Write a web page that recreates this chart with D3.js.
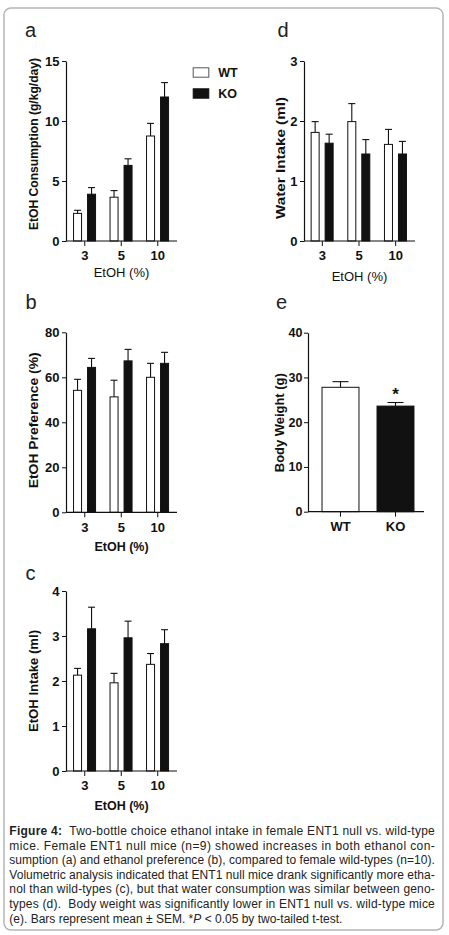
<!DOCTYPE html>
<html>
<head>
<meta charset="utf-8">
<script src="https://cdn.jsdelivr.net/npm/d3@7"></script>
<style>
  html, body { margin: 0; padding: 0; background: #fff; }
  svg { display: block; font-family: "Liberation Sans", Arial, sans-serif; }
</style>
</head>
<body>
<svg id="fig" width="449" height="935"></svg>
<script>
// ---------- data ----------
const groups = ["WT", "KO"];
const ethanolCats = ["3", "5", "10"];

// (a) EtOH consumption (g/kg/day)
const consumptionWT = [2.3, 3.65, 8.75];
const consumptionWTsem = [0.26, 0.55, 1.05];
const consumptionKO = [3.9, 6.3, 12.0];
const consumptionKOsem = [0.55, 0.55, 1.2];
const consumptionTicks = [0, 5, 10, 15];

// (b) EtOH preference (%)
const preferenceWT = [54.2, 51.3, 60.0];
const preferenceWTsem = [4.9, 7.4, 6.2];
const preferenceKO = [64.4, 67.3, 66.2];
const preferenceKOsem = [4.0, 5.1, 4.9];
const preferenceTicks = [0, 20, 40, 60, 80];

// (c) EtOH intake (ml)
const intakeWT = [2.13, 1.96, 2.37];
const intakeWTsem = [0.15, 0.21, 0.24];
const intakeKO = [3.16, 2.96, 2.83];
const intakeKOsem = [0.48, 0.37, 0.31];
const intakeTicks = [0, 1, 2, 3, 4];

// (d) Water intake (ml)
const waterWT = [1.81, 1.99, 1.61];
const waterWTsem = [0.18, 0.30, 0.25];
const waterKO = [1.63, 1.45, 1.45];
const waterKOsem = [0.15, 0.24, 0.21];
const waterTicks = [0, 1, 2, 3];

// (e) Body weight (g)
const bodyWeight = [27.8, 23.6];
const bodyWeightSem = [1.26, 0.8];
const bodyWeightTicks = [0, 10, 20, 30, 40];
const bodyWeightSignificant = [false, true];

const captionLines = [
  [{t: "Figure 4:", b: true}, {t: "\u00a0 Two-bottle choice ethanol intake in female ENT1 null vs. wild-type"}],
  [{t: "mice. Female ENT1 null mice (n=9) showed increases in both ethanol con-"}],
  [{t: "sumption (a) and ethanol preference (b), compared to female wild-types (n=10)."}],
  [{t: "Volumetric analysis indicated that ENT1 null mice drank significantly more etha-"}],
  [{t: "nol than wild-types (c), but that water consumption was similar between geno-"}],
  [{t: "types (d).\u00a0 Body weight was significantly lower in ENT1 null vs. wild-type mice"}],
  [{t: "(e). Bars represent mean \u00b1 SEM. *"}, {t: "P", i: true}, {t: " < 0.05 by two-tailed t-test."}]
];

// ---------- drawing ----------
const svg = d3.select("#fig");
const INK = "#111";
const fmt = d3.format("~g");

svg.append("rect")
  .attr("x", 4).attr("y", 8).attr("width", 439).attr("height", 922)
  .attr("rx", 7).attr("fill", "none").attr("stroke", "#b5b5b5").attr("stroke-width", 1.5);

function styleAxis(g, size) {
  g.selectAll("text").attr("font-size", size).attr("font-weight", "bold").attr("fill", INK)
    .attr("font-family", "'Liberation Sans', Arial, sans-serif");
  g.selectAll("line").attr("stroke", INK);
}

function drawGroupedPanel(cfg) {
  const g = svg.append("g");
  const y = d3.scaleLinear().domain([0, d3.max(cfg.ticks)]).range([cfg.yBot, cfg.yTop]);
  const x = d3.scaleBand().domain(ethanolCats).range(cfg.bandRange).padding(0);
  const inner = d3.scaleBand().domain(groups).range([-11.7, 11.3]).paddingInner(0.357);

  const series = [
    {grp: "WT", vals: cfg.wt, sem: cfg.wtSem},
    {grp: "KO", vals: cfg.ko, sem: cfg.koSem}
  ];
  series.forEach(s => {
    const fill = s.grp === "WT" ? "#fff" : INK;
    s.vals.forEach((v, i) => {
      const cx = x(ethanolCats[i]) + x.bandwidth() / 2;
      const bx = cx + inner(s.grp);
      const mid = bx + inner.bandwidth() / 2;
      g.append("line").attr("x1", mid).attr("x2", mid)
        .attr("y1", y(v)).attr("y2", y(v + s.sem[i]))
        .attr("stroke", INK).attr("stroke-width", 1.1);
      g.append("line").attr("x1", mid - 3.5).attr("x2", mid + 3.5)
        .attr("y1", y(v + s.sem[i])).attr("y2", y(v + s.sem[i]))
        .attr("stroke", INK).attr("stroke-width", 1.1);
      g.append("rect")
        .attr("x", bx + 0.5).attr("y", y(v))
        .attr("width", inner.bandwidth() - 1).attr("height", y(0) - y(v))
        .attr("fill", fill).attr("stroke", INK).attr("stroke-width", 1);
    });
  });

  const ya = g.append("g").attr("transform", `translate(${cfg.x0},0)`)
    .call(d3.axisLeft(y).tickValues(cfg.ticks).tickFormat(fmt).tickSize(4).tickPadding(2.5).tickSizeOuter(0));
  ya.select(".domain").attr("stroke", INK).attr("stroke-width", 1.2);
  styleAxis(ya, 13);

  const xa = g.append("g").attr("transform", `translate(0,${cfg.yBot})`)
    .call(d3.axisBottom(x).tickSize(5).tickPadding(5).tickSizeOuter(0));
  xa.select(".domain").remove();
  styleAxis(xa, 13);
  g.append("line").attr("x1", cfg.x0).attr("x2", cfg.x1)
    .attr("y1", cfg.yBot).attr("y2", cfg.yBot).attr("stroke", INK).attr("stroke-width", 1.2);

  g.append("text")
    .attr("transform", `translate(${cfg.yLabelX},${(cfg.yTop + cfg.yBot) / 2 + cfg.yLabelShift}) rotate(-90)`)
    .attr("text-anchor", "middle").attr("font-size", 13).attr("font-weight", "bold").attr("fill", INK)
    .attr("textLength", cfg.yLabelLen).attr("lengthAdjust", "spacingAndGlyphs")
    .text(cfg.yLabel);
  g.append("text")
    .attr("x", (cfg.x0 + cfg.x1) / 2).attr("y", cfg.yBot + cfg.xLabelDy)
    .attr("text-anchor", "middle").attr("font-size", cfg.xLabelBold ? 12.5 : 13)
    .attr("font-weight", cfg.xLabelBold ? "bold" : "normal").attr("fill", INK)
    .text("EtOH (%)");

  g.append("text").attr("x", cfg.letterX).attr("y", cfg.letterY)
    .attr("font-size", 20).attr("fill", "#222").text(cfg.letter);
  return g;
}

const pa = drawGroupedPanel({
  letter: "a", letterX: 25, letterY: 37.3,
  x0: 66, x1: 177, yTop: 61, yBot: 241, bandRange: [66.5, 176],
  ticks: consumptionTicks, wt: consumptionWT, wtSem: consumptionWTsem, ko: consumptionKO, koSem: consumptionKOsem,
  yLabel: "EtOH Consumption (g/kg/day)", yLabelX: 37.5, yLabelLen: 172, yLabelShift: -7,
  xLabelDy: 36, xLabelBold: false
});

groups.forEach((grp, i) => {
  pa.append("rect").attr("x", 193.2).attr("y", 67.8 + i * 21)
    .attr("width", 15.6).attr("height", 9.4)
    .attr("fill", grp === "WT" ? "#fff" : INK).attr("stroke", grp === "WT" ? "#555" : INK).attr("stroke-width", 1);
  pa.append("text").attr("x", 218.3).attr("y", 76.8 + i * 21)
    .attr("font-size", 12.5).attr("font-weight", "bold").attr("fill", INK).text(grp);
});

drawGroupedPanel({
  letter: "d", letterX: 277.5, letterY: 37,
  x0: 304, x1: 415, yTop: 61, yBot: 241, bandRange: [304, 414],
  ticks: waterTicks, wt: waterWT, wtSem: waterWTsem, ko: waterKO, koSem: waterKOsem,
  yLabel: "Water Intake (ml)", yLabelX: 284.5, yLabelLen: 122, yLabelShift: 7,
  xLabelDy: 40, xLabelBold: false
});

drawGroupedPanel({
  letter: "b", letterX: 25.5, letterY: 309,
  x0: 66, x1: 177, yTop: 332.3, yBot: 512.3, bandRange: [66.5, 176],
  ticks: preferenceTicks, wt: preferenceWT, wtSem: preferenceWTsem, ko: preferenceKO, koSem: preferenceKOsem,
  yLabel: "EtOH Preference (%)", yLabelX: 37.5, yLabelLen: 136, yLabelShift: -2,
  xLabelDy: 38.5, xLabelBold: true
});

drawGroupedPanel({
  letter: "c", letterX: 25.5, letterY: 580,
  x0: 66, x1: 177, yTop: 591, yBot: 771, bandRange: [66.5, 176],
  ticks: intakeTicks, wt: intakeWT, wtSem: intakeWTsem, ko: intakeKO, koSem: intakeKOsem,
  yLabel: "EtOH Intake (ml)", yLabelX: 37.5, yLabelLen: 102, yLabelShift: 0,
  xLabelDy: 38.5, xLabelBold: true
});

// (e) body weight
(function () {
  const g = svg.append("g");
  const x0 = 308, x1 = 424, yTop = 332.7, yBot = 511.7;
  const y = d3.scaleLinear().domain([0, d3.max(bodyWeightTicks)]).range([yBot, yTop]);
  const x = d3.scaleBand().domain(groups).range([313, 423]).paddingInner(0.31).paddingOuter(0.155);
  groups.forEach((grp, i) => {
    const v = bodyWeight[i], e = bodyWeightSem[i];
    const mid = x(grp) + x.bandwidth() / 2;
    g.append("line").attr("x1", mid).attr("x2", mid).attr("y1", y(v)).attr("y2", y(v + e))
      .attr("stroke", INK).attr("stroke-width", 1.1);
    g.append("line").attr("x1", mid - 8).attr("x2", mid + 8).attr("y1", y(v + e)).attr("y2", y(v + e))
      .attr("stroke", INK).attr("stroke-width", 1.1);
    g.append("rect").attr("x", x(grp) + 0.5).attr("y", y(v))
      .attr("width", x.bandwidth() - 1).attr("height", y(0) - y(v))
      .attr("fill", grp === "WT" ? "#fff" : INK).attr("stroke", INK).attr("stroke-width", 1);
    if (bodyWeightSignificant[i]) {
      g.append("text").attr("x", mid).attr("y", y(v + e) - 3)
        .attr("text-anchor", "middle").attr("font-size", 17).attr("font-weight", "bold")
        .attr("fill", INK).text("*");
    }
  });
  const ya = g.append("g").attr("transform", `translate(${x0},0)`)
    .call(d3.axisLeft(y).tickValues(bodyWeightTicks).tickFormat(fmt).tickSize(4).tickPadding(1.5).tickSizeOuter(0));
  ya.select(".domain").attr("stroke", INK).attr("stroke-width", 1.2);
  styleAxis(ya, 12.5);
  const xa = g.append("g").attr("transform", `translate(0,${yBot})`)
    .call(d3.axisBottom(x).tickSize(5).tickPadding(5).tickSizeOuter(0));
  xa.select(".domain").remove();
  styleAxis(xa, 13);
  g.append("line").attr("x1", x0).attr("x2", x1).attr("y1", yBot).attr("y2", yBot)
    .attr("stroke", INK).attr("stroke-width", 1.2);
  g.append("text")
    .attr("transform", `translate(284,${(yTop + yBot) / 2 + 0.5}) rotate(-90)`)
    .attr("text-anchor", "middle").attr("font-size", 13).attr("font-weight", "bold").attr("fill", INK)
    .attr("textLength", 99).attr("lengthAdjust", "spacingAndGlyphs")
    .text("Body Weight (g)");
  g.append("text").attr("x", 276).attr("y", 309).attr("font-size", 20).attr("fill", "#222").text("e");
})();

// caption
const cap = svg.append("g").attr("font-size", 12).attr("fill", "#222");
captionLines.forEach((parts, i) => {
  const t = cap.append("text").attr("x", 9.3).attr("y", 835.2 + i * 14.55)
    .style("white-space", "pre");
  if (i < captionLines.length - 1) {
    t.attr("textLength", 425.5).attr("lengthAdjust", "spacing");
  }
  parts.forEach(p => {
    const ts = t.append("tspan").text(p.t);
    if (p.b) ts.attr("font-weight", "bold");
    if (p.i) ts.attr("font-style", "italic");
  });
});
</script>
</body>
</html>
